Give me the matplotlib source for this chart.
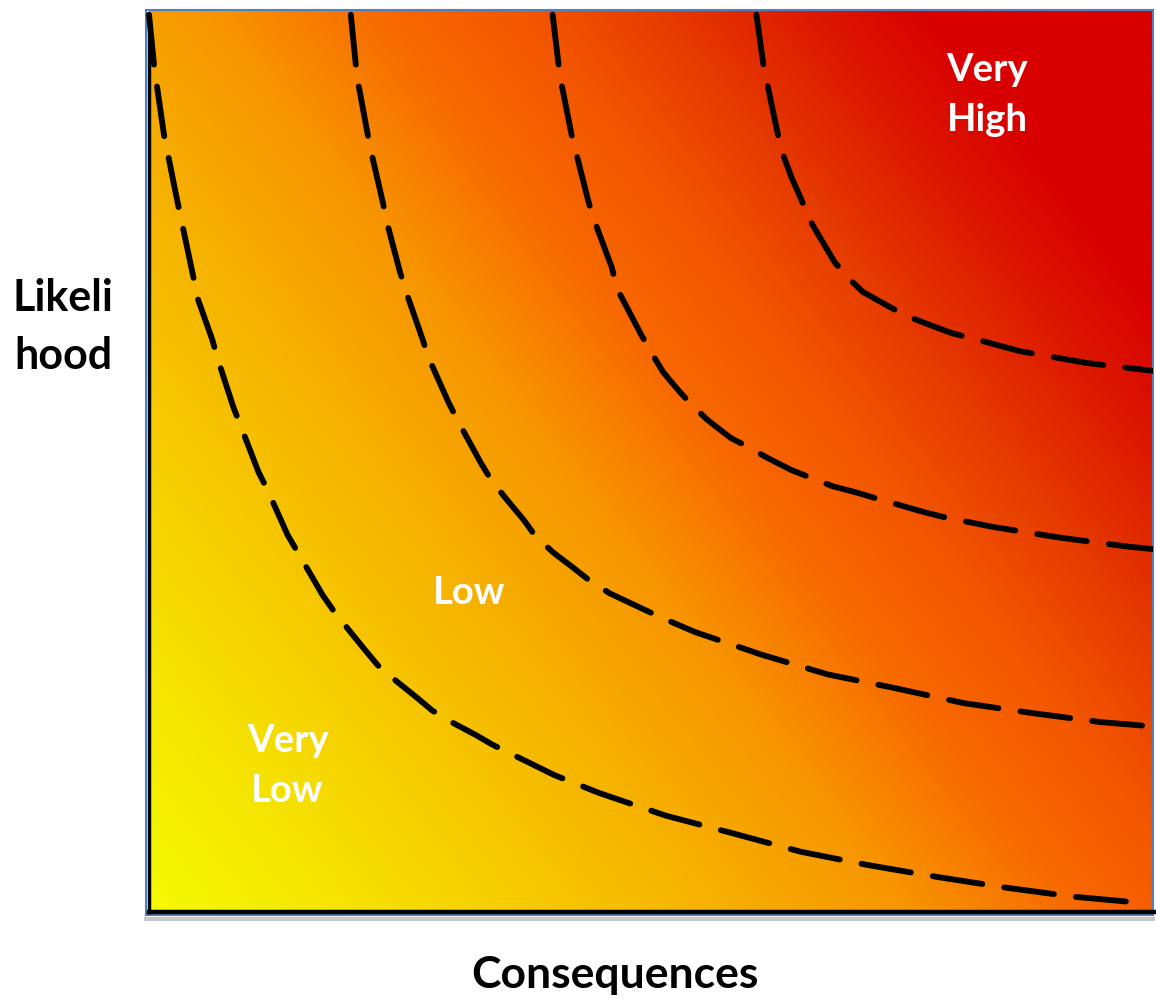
import numpy as np
import matplotlib
matplotlib.use("Agg")
import matplotlib.pyplot as plt
from matplotlib.colors import LinearSegmentedColormap

# |====| data section
# iso-risk curves (x = consequences, y = likelihood, 0..100)
c1_x = [0.0, 0.5, 0.8, 1.5, 1.9, 2.8, 4.9, 6.3, 6.8, 8.4, 9.1, 10.9, 11.8, 13.8,
        14.8, 17.3, 18.3, 20.0, 21.6, 22.8, 24.7, 26.7, 28.2, 30.3, 32.5, 34.2,
        40.4, 44.9, 51.5, 58.3, 64.9, 71.7, 78.5, 85.4, 92.1, 99.0]
c1_y = [99.7, 94.1, 91.7, 86.3, 84.1, 79.1, 68.0, 63.6, 61.6, 56.1, 54.1, 48.9,
        46.9, 41.9, 40.0, 35.2, 33.6, 31.2, 29.0, 27.4, 25.6, 23.8, 22.4, 21.0,
        19.7, 18.6, 15.2, 13.2, 10.7, 8.7, 6.7, 5.2, 3.9, 2.7, 1.7, 1.0]

c2_x = [20.1, 20.6, 20.9, 21.8, 22.2, 23.3, 23.7, 25.0, 25.7, 27.2, 27.8, 29.8,
        30.7, 33.1, 34.2, 35.8, 37.3, 38.4, 40.2, 42.2, 43.8, 45.9, 48.0, 49.9,
        52.1, 54.4, 61.0, 67.6, 74.2, 81.2, 88.0, 94.8, 100.2]
c2_y = [99.7, 94.1, 91.7, 86.3, 84.1, 78.8, 76.6, 71.1, 68.6, 63.8, 61.7, 56.7,
        54.7, 49.8, 47.8, 45.6, 43.6, 41.9, 40.0, 38.3, 36.9, 35.4, 34.3, 33.3,
        32.2, 31.1, 28.6, 26.4, 24.9, 23.2, 22.1, 21.1, 20.6]

c3_x = [40.2, 40.8, 41.1, 42.1, 42.6, 43.8, 44.4, 46.1, 46.6, 48.9, 49.9, 51.2,
        52.7, 54.1, 55.6, 57.9, 59.6, 61.7, 64.0, 65.8, 68.1, 70.5, 72.3, 77.3,
        79.1, 84.0, 90.7, 97.5, 100.2]
c3_y = [99.7, 94.1, 91.9, 86.3, 84.1, 78.8, 76.7, 71.6, 69.3, 64.4, 62.4, 60.0,
        58.0, 56.3, 54.7, 52.7, 51.7, 50.4, 49.1, 48.3, 47.3, 46.6, 46.0, 44.4,
        43.9, 42.8, 41.6, 40.6, 40.3]

c4_x = [60.5, 61.2, 61.6, 62.6, 63.1, 64.0, 65.0, 65.7, 66.8, 68.3, 69.5, 71.1,
        73.5, 75.3, 77.6, 80.0, 81.8, 86.8, 93.4, 100.2]
c4_y = [99.7, 94.1, 91.9, 86.6, 84.3, 81.6, 79.1, 77.1, 75.0, 72.2, 70.6, 68.9,
        67.4, 66.3, 65.3, 64.3, 63.8, 62.3, 61.0, 60.1]

curves = [(c1_x, c1_y), (c2_x, c2_y), (c3_x, c3_y), (c4_x, c4_y)]

# region labels: text, x, y
regions = [("Very\nHigh", 83.5, 90.8), ("Low", 31.9, 35.4), ("Very\nLow", 13.8, 16.2)]

# |====| gradient section
stops = [(0.00, "#f4fb00"), (0.15, "#f6dc00"), (0.34, "#f6b000"), (0.45, "#f79400"),
         (0.55, "#f76800"), (0.63, "#f35600"), (0.71, "#e63c00"), (0.80, "#dc1800"),
         (0.87, "#d80000"), (1.00, "#d80000")]
cmap = LinearSegmentedColormap.from_list("risk", stops)

xx, yy = np.meshgrid(np.linspace(0, 1, 500), np.linspace(0, 1, 500))
tt = 0.59 * xx + 0.41 * yy

plt.rcParams['font.family'] = ['Lato', 'DejaVu Sans']

fig = plt.figure(figsize=(11.56, 9.99), dpi=100)
ax = fig.add_axes([146 / 1156, 84 / 999, 1007 / 1156, 905 / 999])
ax.set_xlim(-0.3, 100)
ax.set_ylim(-0.33, 100.22)

ax.imshow(tt, cmap=cmap, vmin=0, vmax=1, origin="lower", extent=(0, 100, 0, 100),
          aspect="auto", interpolation="bilinear", zorder=0)

for cx, cy in curves:
    ax.plot(cx, cy, color="black", lw=4.2, linestyle=(0, (8.6, 3.8)),
            dash_capstyle="round", solid_joinstyle="round", zorder=3)

for txt, tx, ty in regions:
    ax.text(tx, ty, txt, color="white", fontsize=27.5, fontweight="bold",
            ha="center", va="center", linespacing=1.58, zorder=4)

# axis lines and frame
for s in ax.spines.values():
    s.set_color("#4f81bd")
    s.set_linewidth(1.5)
ax.plot([0, 0], [0, 99.5], color="black", lw=2.5, zorder=5, clip_on=False)
ax.plot([0, 100.3], [0, 0], color="black", lw=3.2, zorder=5, clip_on=False)
ax.plot([-0.3, 100], [-0.75, -0.75], color="#c8c8c8", lw=3, zorder=5, clip_on=False)
ax.set_xticks([])
ax.set_yticks([])

fig.text(615 / 1156, 1 - 975 / 999, "Consequences", fontsize=32, fontweight="bold",
         ha="center", va="center")
fig.text(63 / 1156, 1 - 327 / 999, "Likeli\nhood", fontsize=31, fontweight="bold",
         ha="center", va="center", linespacing=1.55)

fig.savefig("out.png", dpi=100)
